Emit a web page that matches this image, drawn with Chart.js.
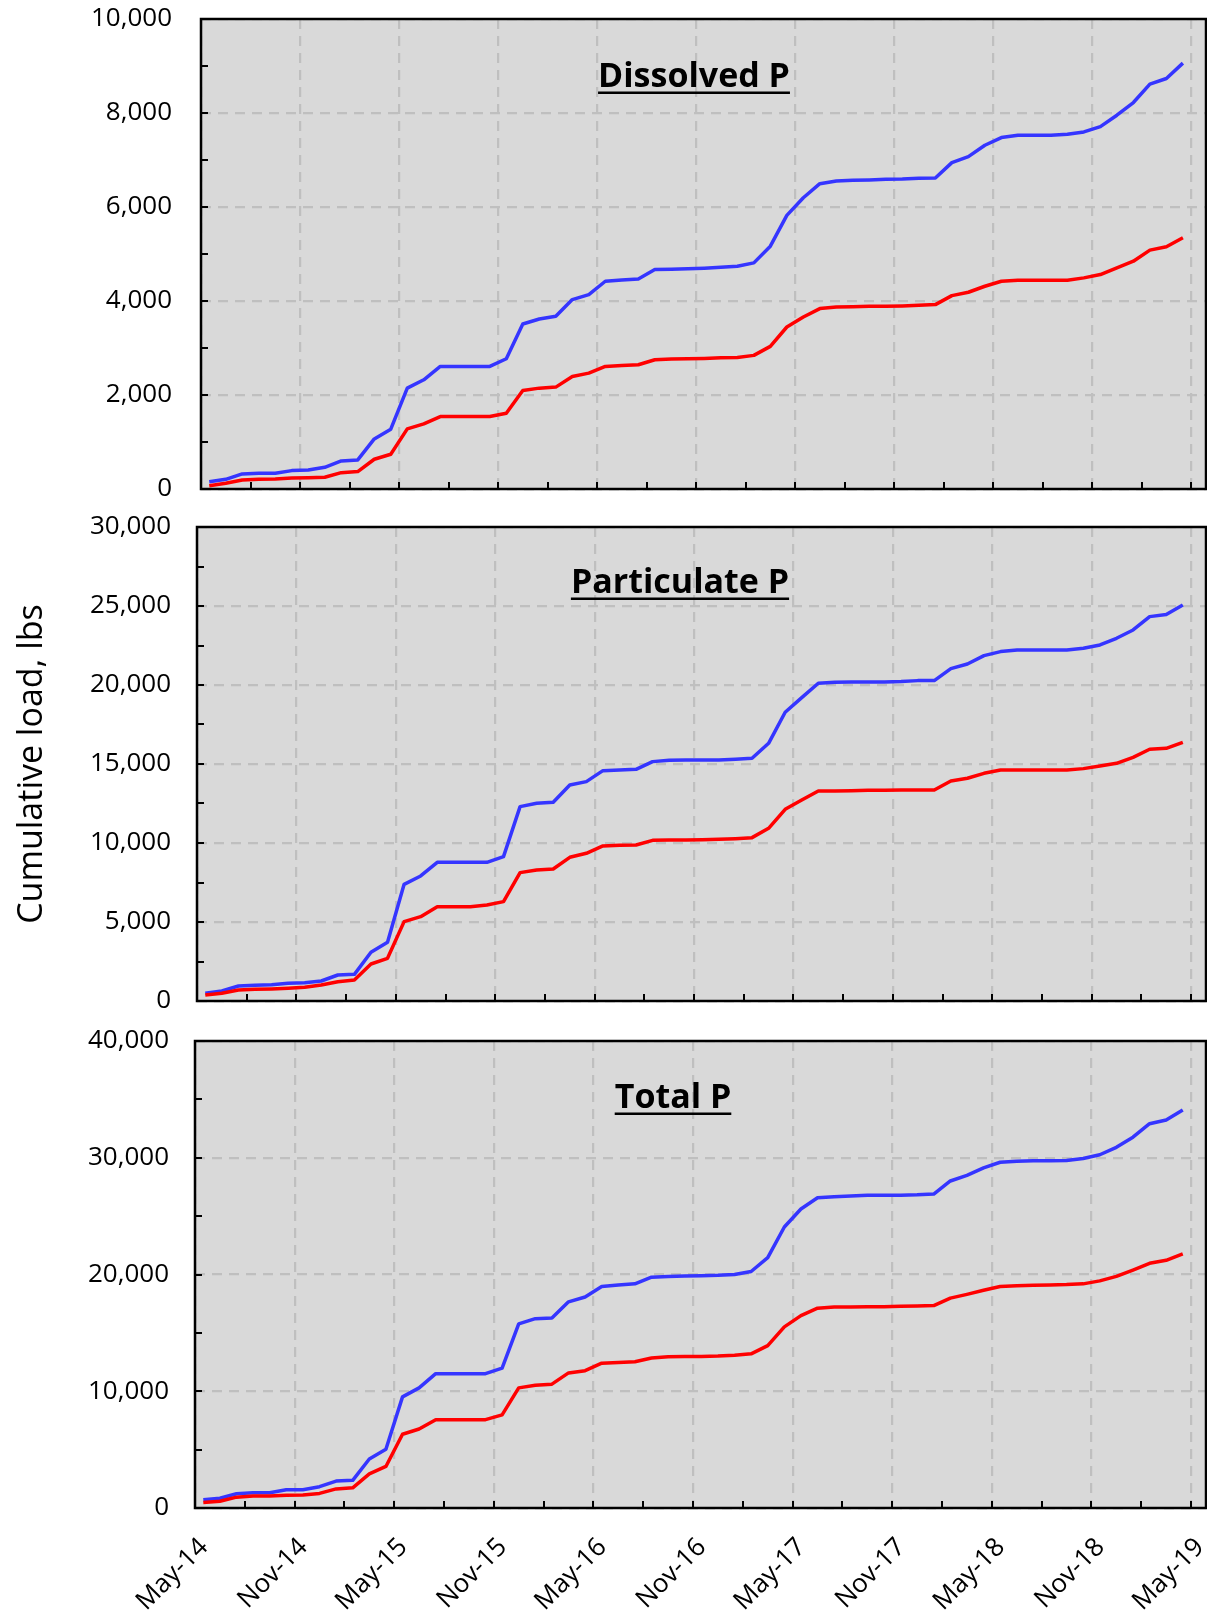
<!DOCTYPE html>
<html>
<head>
<meta charset="utf-8">
<title>Cumulative P load</title>
<script src="https://cdn.jsdelivr.net/npm/chart.js@4.4.1/dist/chart.umd.min.js"></script>
<style>
  html, body { margin: 0; padding: 0; background: #fff; }
  #wrap { position: relative; width: 1207px; height: 1616px; overflow: hidden; }
  #wrap canvas { position: absolute; left: 0; }
</style>
</head>
<body>
<div id="wrap">
  <canvas id="dissolvedChart" width="1207" height="505" style="top:0px"></canvas>
  <canvas id="particulateChart" width="1207" height="515" style="top:505px"></canvas>
  <canvas id="totalChart" width="1207" height="596" style="top:1020px"></canvas>
</div>
<script>
// x axis: months since May-14, one value per month (mid-month)
const xTickLabels = ["May-14", "Nov-14", "May-15", "Nov-15", "May-16", "Nov-16",
  "May-17", "Nov-17", "May-18", "Nov-18", "May-19"];
const monthPos = Array.from({ length: 60 }, (_, i) => i + 0.5);
// tick marks every 3 months, labels every 6
const xTickValues = [0, 3, 6, 9, 12, 15, 18, 21, 24, 27, 30, 33, 36, 39, 42, 45, 48, 51, 54, 57, 60];

// y axis tick labels per panel
const dissolvedYTicks = [0, 2000, 4000, 6000, 8000, 10000];
const particulateYTicks = [0, 5000, 10000, 15000, 20000, 25000, 30000];
const totalYTicks = [0, 10000, 20000, 30000, 40000];

// Dissolved P, lbs
const dissolvedBlue = [156, 206, 320, 334, 334, 391, 405, 462, 597, 618,
  1066, 1272, 2146, 2324, 2608, 2608, 2608, 2608, 2772, 3511,
  3617, 3674, 4030, 4136, 4420, 4449, 4470, 4669, 4676, 4684,
  4698, 4719, 4740, 4811, 5167, 5821, 6197, 6496, 6553, 6567,
  6574, 6588, 6595, 6610, 6617, 6944, 7071, 7313, 7477, 7526,
  7526, 7526, 7548, 7597, 7711, 7953, 8223, 8614, 8734, 9061];
const dissolvedRed = [71, 121, 192, 206, 213, 235, 242, 249, 348, 370,
  633, 739, 1279, 1386, 1542, 1542, 1542, 1542, 1613, 2097,
  2146, 2168, 2395, 2466, 2608, 2630, 2644, 2750, 2765, 2772,
  2779, 2793, 2800, 2843, 3035, 3447, 3660, 3838, 3873, 3880,
  3888, 3888, 3895, 3909, 3923, 4115, 4186, 4314, 4421, 4442,
  4442, 4442, 4442, 4492, 4563, 4705, 4847, 5082, 5153, 5344];

// Particulate P, lbs
const particulateBlue = [485, 633, 950, 992, 1034, 1118, 1161, 1266, 1646, 1688,
  3081, 3714, 7385, 7913, 8778, 8778, 8778, 8778, 9136, 12301,
  12512, 12576, 13673, 13884, 14580, 14622, 14665, 15150, 15234, 15255,
  15255, 15255, 15298, 15361, 16310, 18273, 19201, 20108, 20172, 20193,
  20193, 20193, 20214, 20277, 20277, 21037, 21332, 21860, 22113, 22218,
  22218, 22218, 22218, 22324, 22535, 22957, 23484, 24328, 24455, 25067];
const particulateRed = [380, 485, 696, 739, 760, 802, 865, 1013, 1224, 1329,
  2342, 2701, 5022, 5338, 5971, 5971, 5971, 6077, 6288, 8124,
  8292, 8356, 9094, 9347, 9812, 9854, 9875, 10170, 10191, 10191,
  10212, 10234, 10276, 10339, 10930, 12133, 12723, 13293, 13293, 13314,
  13335, 13335, 13356, 13356, 13356, 13926, 14095, 14411, 14622, 14622,
  14622, 14622, 14622, 14707, 14876, 15044, 15424, 15931, 15994, 16374];

// Total P, lbs
const totalBlue = [705, 833, 1218, 1314, 1314, 1570, 1570, 1827, 2308, 2372,
  4199, 5032, 9519, 10288, 11506, 11506, 11506, 11506, 11987, 15769,
  16217, 16282, 17660, 18076, 18974, 19102, 19198, 19775, 19839, 19871,
  19903, 19935, 19999, 20255, 21441, 24070, 25608, 26569, 26665, 26729,
  26794, 26794, 26794, 26826, 26890, 28011, 28492, 29133, 29614, 29710,
  29742, 29742, 29774, 29934, 30255, 30896, 31761, 32915, 33235, 34100];
const totalRed = [481, 577, 929, 1026, 1026, 1090, 1122, 1250, 1635, 1731,
  2917, 3558, 6314, 6763, 7564, 7564, 7564, 7564, 7980, 10288,
  10512, 10608, 11570, 11762, 12403, 12467, 12532, 12852, 12948, 12980,
  12980, 13012, 13076, 13204, 13910, 15512, 16474, 17115, 17211, 17211,
  17243, 17243, 17275, 17307, 17339, 17980, 18301, 18653, 18974, 19038,
  19070, 19102, 19134, 19198, 19455, 19839, 20384, 20961, 21217, 21762];

const GRID = "#bfbfbf";
const BLUE = "#3535ff";
const RED = "#ff0000";

Chart.defaults.font.family = '"Open Sans", "DejaVu Sans", sans-serif';
Chart.defaults.color = "#000";

// gray plot area, black frame, inward tick marks and the underlined panel label
const panelDecor = {
  id: "panelDecor",
  beforeDraw(chart) {
    const { ctx, chartArea: a } = chart;
    ctx.save();
    ctx.fillStyle = "#d9d9d9";
    ctx.fillRect(a.left, a.top, a.width, a.height);
    ctx.restore();
  },
  afterDraw(chart, args, opts) {
    const { ctx, chartArea: a, scales: { x, y } } = chart;
    ctx.save();
    ctx.strokeStyle = "#000";
    ctx.lineWidth = 2;
    ctx.beginPath();
    y.ticks.forEach((t) => {
      const py = Math.round(y.getPixelForValue(t.value));
      ctx.moveTo(a.left, py);
      ctx.lineTo(a.left + 7, py);
    });
    x.ticks.forEach((t) => {
      const px = Math.round(x.getPixelForValue(t.value));
      ctx.moveTo(px, a.bottom);
      ctx.lineTo(px, a.bottom - 7);
    });
    ctx.stroke();
    ctx.lineWidth = 2.5;
    ctx.strokeRect(a.left, a.top, a.width, a.height);

    ctx.font = 'bold 34px "Open Sans"';
    ctx.fillStyle = "#000";
    ctx.textAlign = "center";
    ctx.textBaseline = "alphabetic";
    const ty = a.top + opts.dy;
    ctx.fillText(opts.text, opts.x, ty);
    const w = ctx.measureText(opts.text).width;
    ctx.fillRect(opts.x - w / 2, ty + 4.5, w, 2.5);
    ctx.restore();
  },
};

function makePanel(id, p) {
  const yTicks = p.yTicks;
  const major = yTicks[1] - yTicks[0];
  const toXY = (vals) => monthPos.map((m, i) => ({ x: m, y: vals[i] }));

  return new Chart(document.getElementById(id), {
    type: "line",
    data: {
      datasets: [
        { label: "Red series", data: toXY(p.red), borderColor: RED, borderWidth: 3.5,
          pointRadius: 0, tension: 0, borderJoinStyle: "round" },
        { label: "Blue series", data: toXY(p.blue), borderColor: BLUE, borderWidth: 3.5,
          pointRadius: 0, tension: 0, borderJoinStyle: "round" },
      ],
    },
    options: {
      responsive: false,
      animation: false,
      devicePixelRatio: 1,
      layout: { padding: p.padding },
      plugins: {
        legend: { display: false },
        tooltip: { enabled: false },
        panelDecor: { text: p.title, x: p.titleX, dy: p.titleDy },
      },
      scales: {
        x: {
          type: "linear",
          min: 0,
          max: 60.9,
          afterBuildTicks: (s) => {
            s.ticks = xTickValues.map((v) => ({ value: v }));
          },
          afterFit: (s) => {
            s.height = p.xHeight;
            s.paddingLeft = 0;
            s.paddingRight = 0;
          },
          ticks: {
            display: p.showX,
            stepSize: 3,
            autoSkip: false,
            minRotation: 45,
            maxRotation: 45,
            labelOffset: 9,
            padding: 24,
            font: { size: 26 },
            callback: (v) => (v % 6 === 0 ? xTickLabels[v / 6] : ""),
          },
          grid: {
            color: (c) => (c.tick && c.tick.value % 6 === 0 ? GRID : "transparent"),
            lineWidth: 2.2,
            drawTicks: false,
          },
          border: { display: false, dash: [10, 7] },
        },
        y: {
          min: yTicks[0],
          max: yTicks[yTicks.length - 1],
          afterFit: (s) => {
            s.width = p.yWidth;
            s.paddingTop = 0;
            s.paddingBottom = 0;
          },
          ticks: {
            stepSize: major / 2,
            autoSkip: false,
            padding: p.labelPad,
            font: { size: 26 },
            callback: (v) => (yTicks.includes(v) ? v.toLocaleString("en-US") : ""),
          },
          grid: {
            color: (c) => (c.tick && yTicks.includes(c.tick.value) ? GRID : "transparent"),
            lineWidth: 2.2,
            drawTicks: false,
          },
          border: { display: false, dash: [10, 7] },
          title: {
            display: !!p.yTitle,
            text: p.yTitle || "",
            font: { size: 34 },
            padding: { top: 4, bottom: 4 },
          },
        },
      },
    },
    plugins: [panelDecor],
  });
}

function drawAll() {
  makePanel("dissolvedChart", {
    blue: dissolvedBlue, red: dissolvedRed, yTicks: dissolvedYTicks,
    title: "Dissolved P", titleX: 694, titleDy: 68,
    padding: { left: 0, top: 19, right: 1, bottom: 16 },
    yWidth: 201, xHeight: 0, labelPad: 29, showX: false,
  });
  makePanel("particulateChart", {
    blue: particulateBlue, red: particulateRed, yTicks: particulateYTicks,
    title: "Particulate P", titleX: 680, titleDy: 66,
    padding: { left: 8, top: 22, right: 1, bottom: 19 },
    yWidth: 189, xHeight: 0, labelPad: 26, showX: false,
    yTitle: "Cumulative load, lbs",
  });
  makePanel("totalChart", {
    blue: totalBlue, red: totalRed, yTicks: totalYTicks,
    title: "Total P", titleX: 673, titleDy: 67,
    padding: { left: 0, top: 21, right: 1, bottom: 0 },
    yWidth: 195, xHeight: 108, labelPad: 26, showX: true,
  });
}

Promise.all([
  document.fonts.load('26px "Open Sans"'),
  document.fonts.load('bold 34px "Open Sans"'),
]).catch(() => {}).then(drawAll);
</script>
</body>
</html>
